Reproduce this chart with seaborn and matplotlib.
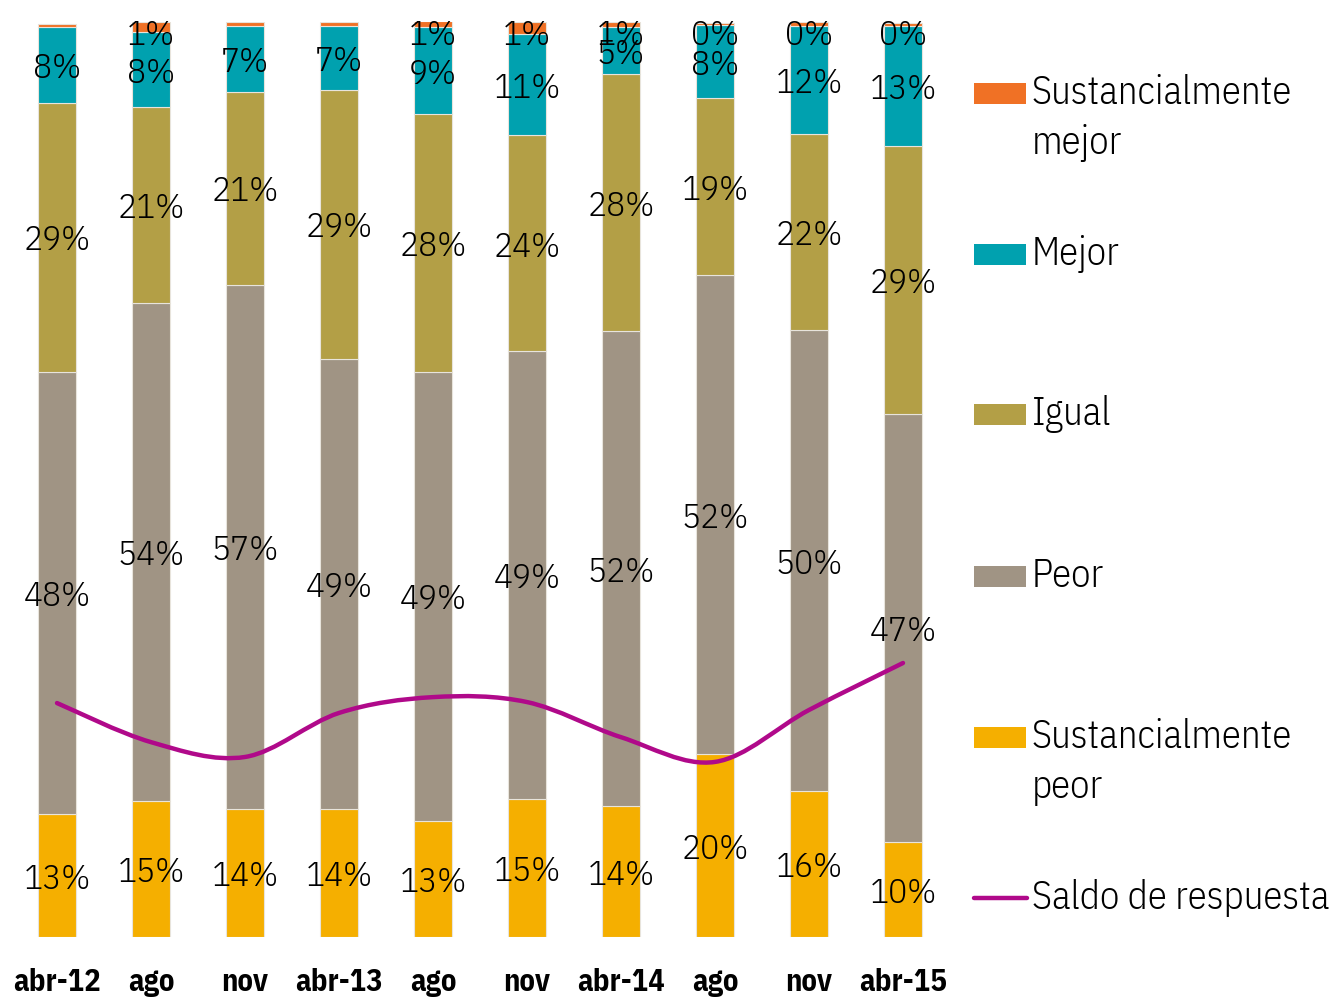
import numpy as np
import matplotlib
matplotlib.use('Agg')
import matplotlib.pyplot as plt
import seaborn as sns
from matplotlib.path import Path
from matplotlib.patches import PathPatch, Rectangle
from matplotlib.lines import Line2D

# ── data ─────────────────────────────────────────────────────
periods = ['abr-12', 'ago-12', 'nov-12', 'abr-13', 'ago-13',
           'nov-13', 'abr-14', 'ago-14', 'nov-14', 'abr-15']
tick_labels = ['abr-12', 'ago', 'nov', 'abr-13', 'ago',
               'nov', 'abr-14', 'ago', 'nov', 'abr-15']

sust_peor = [13.4, 14.9, 14.0, 14.0, 12.7, 15.1, 14.3, 20.0, 16.0, 10.4]
peor = [48.4, 54.4, 57.3, 49.2, 49.1, 48.9, 51.9, 52.3, 50.3, 46.8]
igual = [29.4, 21.4, 21.1, 29.4, 28.2, 23.6, 28.1, 19.4, 21.5, 29.3]
mejor = [8.2, 8.2, 7.2, 7.0, 9.4, 11.1, 5.1, 8.0, 11.8, 13.1]
sust_mejor = [0.4, 1.1, 0.4, 0.4, 0.7, 1.3, 0.6, 0.2, 0.4, 0.3]
# labels of the top segment that are shown in the chart
sust_mejor_shown = [False, True, False, False, True, True, True, True, True, True]

saldo = [-52.7, -60.6, -63.6, -54.7, -51.5, -52.5, -59.6, -64.6, -54.1, -44.6]

series = [
    ('Sustancialmente\npeor', sust_peor, '#F5AF00'),
    ('Peor', peor, '#A09484'),
    ('Igual', igual, '#B39F46'),
    ('Mejor', mejor, '#00A1AF'),
    ('Sustancialmente\nmejor', sust_mejor, '#F07125'),
]
line_color = '#B0098A'

# ── style ────────────────────────────────────────────────────
sns.set_theme(style='white')
plt.rcParams['font.family'] = ['IBM Plex Sans Condensed', 'DejaVu Sans']
plt.rcParams['font.stretch'] = 'condensed'
plt.rcParams['font.weight'] = 300

W, H = 1336, 998
fig = plt.figure(figsize=(W / 100, H / 100), dpi=100)
ax = fig.add_axes([10 / W, (H - 937) / H, 940 / W, (937 - 22) / H])

x = np.arange(len(periods))
bottom = np.zeros(len(periods))
for i, (name, vals, col) in enumerate(series):
    vals = np.array(vals)
    sns.barplot(x=periods, y=vals, order=periods, bottom=bottom, color=col,
                saturation=1, width=0.4, edgecolor='#E8E4DC', linewidth=0.8,
                errorbar=None, ax=ax, zorder=2)
    for j in range(len(periods)):
        if i == len(series) - 1 and not sust_mejor_shown[j]:
            continue
        yc = min(bottom[j] + vals[j] / 2, 98.9)
        ax.annotate(f'{vals[j]:.0f}%', (j, yc), xytext=(0, -3),
                    textcoords='offset points', ha='center', va='center',
                    fontsize=25.5, color='black', zorder=5, annotation_clip=False)
    bottom = bottom + vals

ax.set_xlim(-0.5, len(periods) - 0.5)
ax.set_ylim(0, 100)
ax.set_yticks([])
ax.set_xlabel('')
ax.set_ylabel('')
ax.set_xticks(x)
ax.set_xticklabels(tick_labels, fontsize=22, fontweight='bold', color='black')
ax.tick_params(axis='x', length=0, pad=22)
for s in ax.spines.values():
    s.set_visible(False)

# ── saldo line on secondary axis, smoothed like the original ─
ax2 = ax.twinx()
ax2.set_ylim(-100, 85)
ax2.set_yticks([])
for s in ax2.spines.values():
    s.set_visible(False)

pts = np.column_stack([x, saldo]).astype(float)
ext = np.vstack([pts[0], pts, pts[-1]])
verts = [tuple(pts[0])]
codes = [Path.MOVETO]
for k in range(len(pts) - 1):
    p0, p1, p2, p3 = ext[k], ext[k + 1], ext[k + 2], ext[k + 3]
    c1 = p1 + (p2 - p0) / 6
    c2 = p2 - (p3 - p1) / 6
    verts += [tuple(c1), tuple(c2), tuple(p2)]
    codes += [Path.CURVE4] * 3
ax2.add_patch(PathPatch(Path(verts, codes), facecolor='none',
                        edgecolor=line_color, linewidth=3.2,
                        capstyle='round', zorder=6))

# ── legend, drawn in figure pixels ───────────────────────────
legend_items = [
    ('Sustancialmente\nmejor', '#F07125', 93, 'patch'),
    ('Mejor', '#00A1AF', 254, 'patch'),
    ('Igual', '#B39F46', 414, 'patch'),
    ('Peor', '#A09484', 576, 'patch'),
    ('Sustancialmente\npeor', '#F5AF00', 737, 'patch'),
    ('Saldo de respuesta', line_color, 898, 'line'),
]
for label, col, yc, kind in legend_items:
    yf = (H - yc) / H
    if kind == 'patch':
        fig.patches.append(Rectangle((974 / W, yf - 10.5 / H), 52 / W, 21 / H,
                                     transform=fig.transFigure, facecolor=col,
                                     edgecolor='none'))
    else:
        fig.lines.append(Line2D([974 / W, 1027 / W], [yf, yf],
                                transform=fig.transFigure, color=col,
                                linewidth=3.2, solid_capstyle='round'))
    fig.text(1032 / W, (H - yc + 19) / H, label, ha='left', va='top',
             fontsize=28, color='black', linespacing=1.4)

fig.savefig('out.png', dpi=100)
